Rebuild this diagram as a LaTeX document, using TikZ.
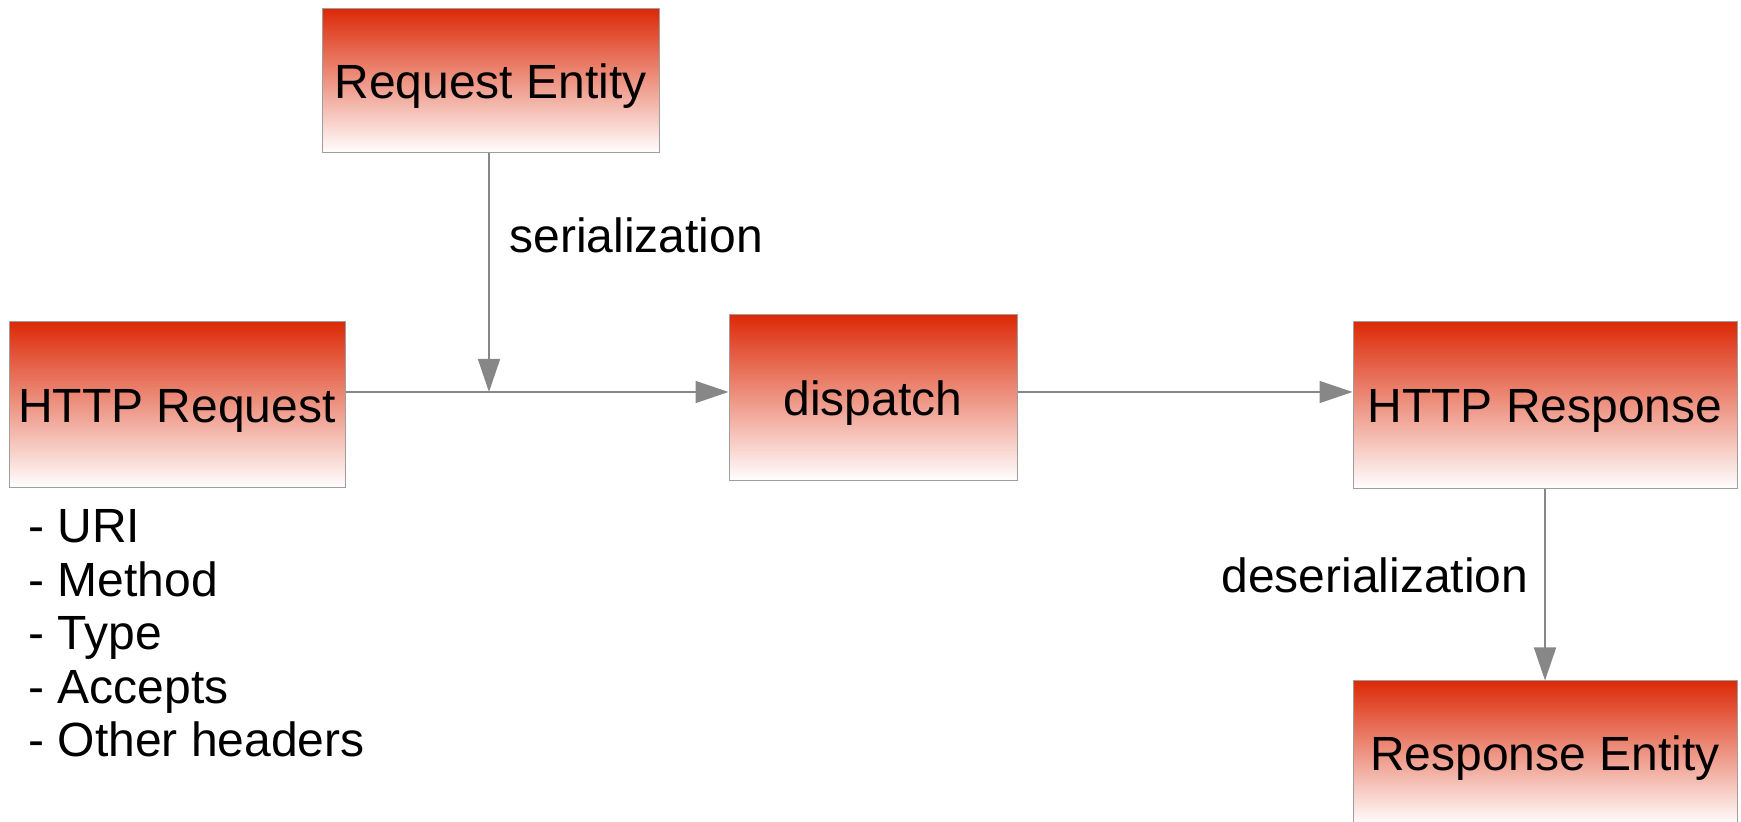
\documentclass[tikz,border=0pt]{standalone}
\usepackage{fontspec}
\setmainfont{Liberation Sans}
\usetikzlibrary{arrows.meta}
\definecolor{boxred}{HTML}{DC2A08}

\begin{document}
\begin{tikzpicture}[x=0.5pt, y=-0.5pt,
	font=\fontsize{24}{26.75}\selectfont,
	box/.style={draw=black!38, line width=0.5pt, top color=boxred, bottom color=white,
		inner sep=0pt, text height=17.2pt, text depth=0pt},
	link/.style={draw=black!47, line width=0.75pt},
	>={Triangle[length=16.5pt, width=11pt]}]
	\clip (0,0) rectangle (1741,822);

	\node[box, minimum width=168.5pt, minimum height=72pt] (ent) at (490.5,81) {Request Entity};
	\node[box, minimum width=168pt, minimum height=83pt] (req) at (177,405) {HTTP Request};
	\node[box, minimum width=144pt, minimum height=83pt] (disp) at (873,398) {dispatch};
	\node[box, minimum width=192pt, minimum height=83.5pt] (resp) at (1545,405.5) {HTTP Response};
	\node[box, minimum width=192pt, minimum height=72pt] (rent) at (1545,753) {Response Entity};

	% where the entity joins the request line
	\coordinate (j) at (489,392);

	\draw[link] (req.east |- j) -- (j);
	\draw[link, ->] (ent.south -| j) -- (j);
	\draw[link, ->] (j) -- (disp.west |- j);
	\draw[link, ->] (disp.east |- j) -- (resp.west |- j);
	\draw[link, ->] (resp.south) -- (rent.north);

	\node[anchor=base west, inner sep=0pt] (ser) at (509,253) {serialization};
	\node[anchor=base west, inner sep=0pt] (deser) at (1221,593) {deserialization};

	\foreach \txt [count=\i] in {URI, Method, Type, Accepts, Other headers}
	{
		\node[anchor=base west, inner sep=0pt] (hd\i) at (28, {543+53.5*(\i-1)}) {- \txt};
	};
\end{tikzpicture}
\end{document}
